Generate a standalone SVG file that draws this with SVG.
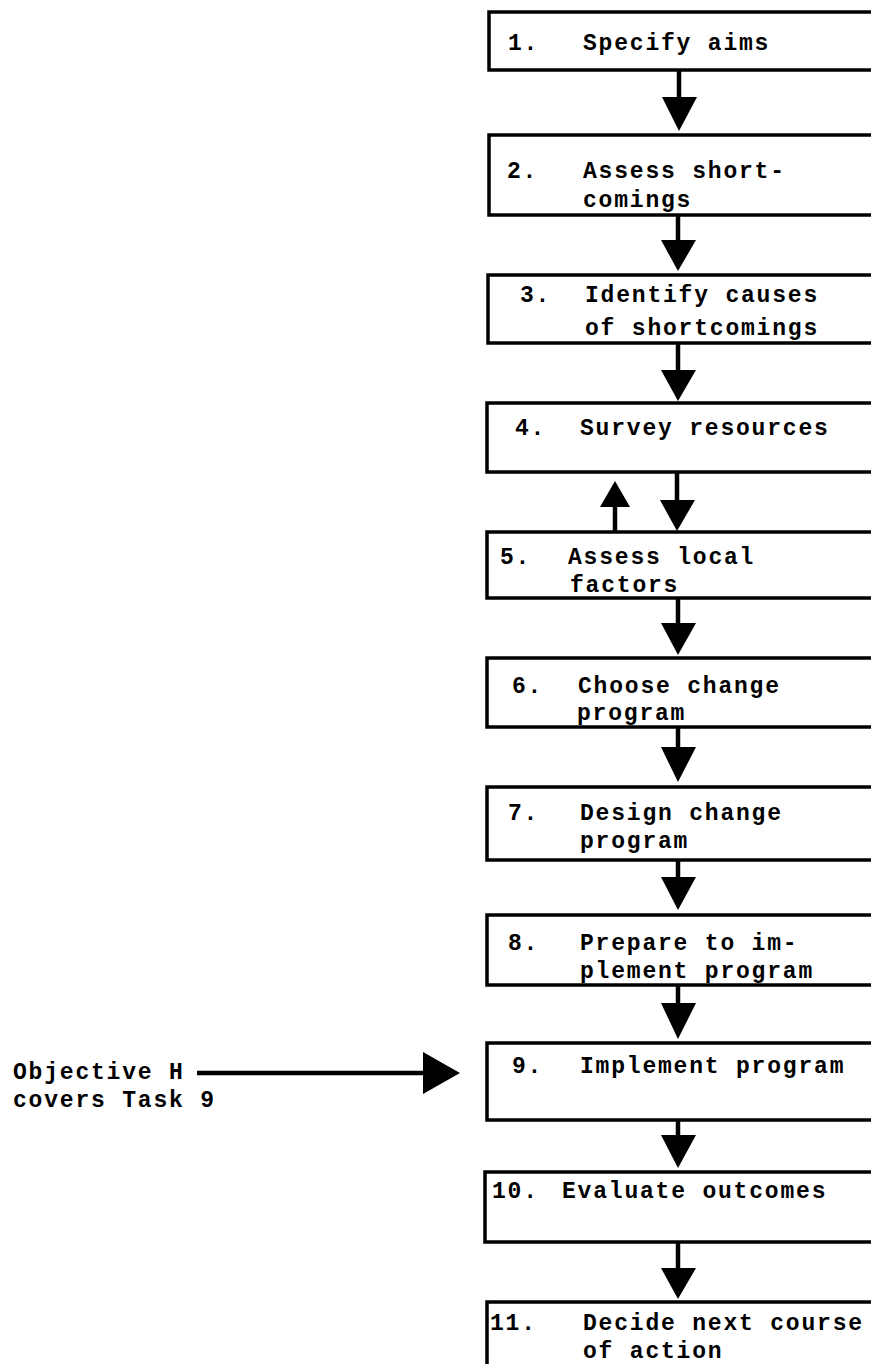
<svg xmlns="http://www.w3.org/2000/svg" width="871" height="1364" viewBox="0 0 871 1364">
<defs>
<style>
.box{fill:#fff;stroke:#000;stroke-width:3.5}
.t{font-family:"Liberation Mono","DejaVu Sans Mono",monospace;font-size:23px;letter-spacing:1.8px;font-weight:bold;fill:#000}
.sh{stroke:#000;stroke-width:4.5;fill:none}
.hd{fill:#000;stroke:none}
</style>
</defs>
<rect width="871" height="1364" fill="#fff"/>
<g id="n1"><rect class="box" x="489" y="12" width="400" height="58"/><text class="t" x="508" y="50">1.</text><text class="t" x="583" y="50">Specify aims</text></g>
<g id="n2"><rect class="box" x="489" y="135" width="400" height="80"/><text class="t" x="507" y="178">2.</text><text class="t" x="583" y="178">Assess short-</text><text class="t" x="583" y="207">comings</text></g>
<g id="n3"><rect class="box" x="488" y="275" width="400" height="68"/><text class="t" x="520" y="302">3.</text><text class="t" x="585" y="302">Identify causes</text><text class="t" x="585" y="335">of shortcomings</text></g>
<g id="n4"><rect class="box" x="487" y="403" width="400" height="69"/><text class="t" x="515" y="435">4.</text><text class="t" x="580" y="435">Survey resources</text></g>
<g id="n5"><rect class="box" x="487" y="532" width="400" height="66"/><text class="t" x="500" y="564">5.</text><text class="t" x="568" y="564">Assess local</text><text class="t" x="570" y="592">factors</text></g>
<g id="n6"><rect class="box" x="487" y="658" width="400" height="69"/><text class="t" x="512" y="693">6.</text><text class="t" x="578" y="693">Choose change</text><text class="t" x="577" y="720">program</text></g>
<g id="n7"><rect class="box" x="487" y="787" width="400" height="73"/><text class="t" x="508" y="820">7.</text><text class="t" x="580" y="820">Design change</text><text class="t" x="580" y="848">program</text></g>
<g id="n8"><rect class="box" x="487" y="915" width="400" height="70"/><text class="t" x="508" y="950">8.</text><text class="t" x="580" y="950">Prepare to im-</text><text class="t" x="580" y="978">plement program</text></g>
<g id="n9"><rect class="box" x="487" y="1043" width="400" height="77"/><text class="t" x="512" y="1073">9.</text><text class="t" x="580" y="1073">Implement program</text></g>
<g id="n10"><rect class="box" x="485" y="1172" width="400" height="70"/><text class="t" x="492" y="1198">10.</text><text class="t" x="562" y="1198">Evaluate outcomes</text></g>
<g id="n11"><rect class="box" x="487" y="1302" width="400" height="80"/><text class="t" x="490" y="1330">11.</text><text class="t" x="583" y="1330">Decide next course</text><text class="t" x="583" y="1358">of action</text></g>
<g id="label"><text class="t" x="13" y="1079">Objective H</text><text class="t" x="13" y="1107">covers Task 9</text></g>
<g id="connectors">
<line class="sh" x1="679" y1="70" x2="679" y2="100"/><polygon class="hd" points="662,97 697,97 679,131"/>
<line class="sh" x1="678" y1="215" x2="678" y2="243"/><polygon class="hd" points="661,240 696,240 678,271"/>
<line class="sh" x1="678" y1="343" x2="678" y2="373"/><polygon class="hd" points="661,370 696,370 678,401"/>
<line class="sh" x1="677" y1="472" x2="677" y2="503"/><polygon class="hd" points="660,500 695,500 677,531"/>
<line class="sh" x1="615" y1="532" x2="615" y2="503"/><polygon class="hd" points="600,507 630,507 615,481"/>
<line class="sh" x1="678" y1="598" x2="678" y2="626"/><polygon class="hd" points="661,623 696,623 678,655"/>
<line class="sh" x1="678" y1="727" x2="678" y2="750"/><polygon class="hd" points="661,747 696,747 678,782"/>
<line class="sh" x1="678" y1="860" x2="678" y2="880"/><polygon class="hd" points="661,877 696,877 678,910"/>
<line class="sh" x1="678" y1="985" x2="678" y2="1006"/><polygon class="hd" points="661,1003 696,1003 678,1039"/>
<line class="sh" x1="678" y1="1120" x2="678" y2="1138"/><polygon class="hd" points="661,1135 696,1135 678,1168"/>
<line class="sh" x1="678" y1="1242" x2="678" y2="1271"/><polygon class="hd" points="661,1268 696,1268 678,1299"/>
<line class="sh" x1="197" y1="1073" x2="426" y2="1073"/><polygon class="hd" points="423,1052 423,1094 460,1073"/>
</g>
</svg>
